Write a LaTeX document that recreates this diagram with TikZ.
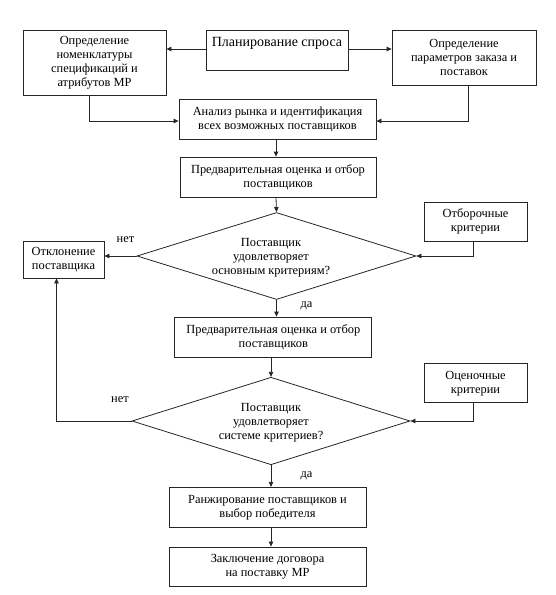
\documentclass[tikz,border=0pt]{standalone}
\usepackage{fontspec}
\setmainfont{Liberation Serif}
\usetikzlibrary{shapes.geometric,arrows.meta}
\begin{document}
\begin{tikzpicture}[x=1pt,y=-1pt,
  box/.style={draw=black!85, line width=0.8pt, rectangle, align=center, inner sep=0pt, font=\fontsize{12.4}{14}\selectfont},
  decision/.style={draw=black!85, line width=0.8pt, diamond, inner sep=0pt},
  lbl/.style={font=\fontsize{12.4}{14}\selectfont, inner sep=0pt, align=center},
  arr/.style={draw=black!85, line width=0.8pt, -{Triangle[length=5pt,width=4.5pt]}}]
\useasboundingbox (0,0) rectangle (556,595);
\node[box, minimum width=143pt, minimum height=65pt] (A) at (94.5,62.5) {Определение\\номенклатуры\\спецификаций и\\атрибутов МР};
\node[box, minimum width=142pt, minimum height=40pt] (P) at (277,50) {};
\node[lbl, font=\fontsize{14}{16}\selectfont] (Pt) at (277,43) {Планирование спроса};
\node[box, minimum width=144pt, minimum height=55pt] (R) at (464,57.5) {Определение\\параметров заказа и\\поставок};
\node[box, minimum width=197pt, minimum height=40pt] (B1) at (277.5,119) {Анализ рынка и идентификация\\всех возможных поставщиков};
\node[box, minimum width=196pt, minimum height=40pt] (B2) at (278,177) {Предварительная оценка и отбор\\поставщиков};
\node[decision, minimum width=279pt, minimum height=87pt] (D1) at (276.5,256) {};
\node[lbl] (D1t) at (271,258) {Поставщик\\удовлетворяет\\основным критериям?};
\node[box, minimum width=103pt, minimum height=39pt] (O1) at (475.5,221.5) {Отборочные\\критерии};
\node[box, minimum width=81pt, minimum height=37pt] (X) at (63.5,259.5) {Отклонение\\поставщика};
\node[lbl] (L1) at (125.5,239.5) {нет};
\node[lbl] (L2) at (306.5,306) {да};
\node[box, minimum width=197pt, minimum height=40pt] (B3) at (273.3,337) {Предварительная оценка и отбор\\поставщиков};
\node[decision, minimum width=278pt, minimum height=87.5pt] (D2) at (271,421) {};
\node[lbl] (D2t) at (271,423) {Поставщик\\удовлетворяет\\системе критериев?};
\node[box, minimum width=103pt, minimum height=39pt] (O2) at (475.5,383.3) {Оценочные\\критерии};
\node[lbl] (L3) at (120,400) {нет};
\node[lbl] (L4) at (306.5,476) {да};
\node[box, minimum width=197pt, minimum height=40pt] (B4) at (267.5,507.3) {Ранжирование поставщиков и\\выбор победителя};
\node[box, minimum width=197pt, minimum height=39pt] (B5) at (267.5,566.5) {Заключение договора\\на поставку МР};
\draw[arr] ([yshift=1pt]P.west) -- ([yshift=1pt]P.west -| A.east);
\draw[arr] ([yshift=1pt]P.east) -- ([yshift=1pt]P.east -| R.west);
\draw[arr] ([xshift=-5pt]A.south) |- ([yshift=-2pt]B1.west);
\draw[arr] ([xshift=4.5pt]R.south) |- ([yshift=-2pt]B1.east);
\draw[arr] ([xshift=-1.5pt]B1.south) -- ([xshift=-1.5pt]B1.south |- B2.north);
\draw[arr] ([xshift=-2pt]B2.south) -- (D1.north);
\draw[arr] ([xshift=-2pt]O1.south) |- (D1.east);
\draw[arr] (D1.west) -- (D1.west -| X.east);
\draw[arr] (D1.south) -- (D1.south |- B3.north);
\draw[arr] ([xshift=-2.3pt]B3.south) -- (D2.north);
\draw[arr] ([xshift=-2pt]O2.south) |- (D2.east);
\draw[arr] (D2.west) -| ([xshift=-7pt]X.south);
\draw[arr] (D2.south) -- (D2.south |- B4.north);
\draw[arr] (D2.south |- B4.south) -- (D2.south |- B5.north);
\end{tikzpicture}
\end{document}
